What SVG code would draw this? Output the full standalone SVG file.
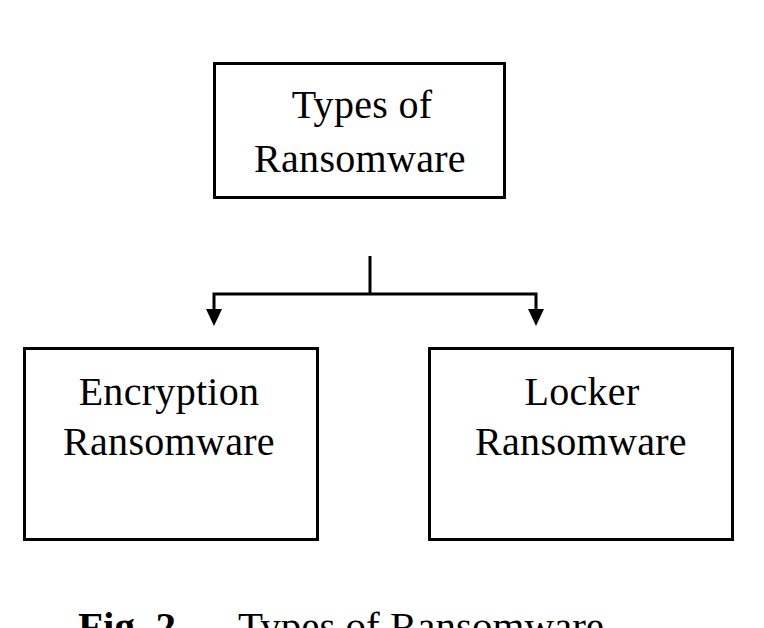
<svg xmlns="http://www.w3.org/2000/svg" width="764" height="628" viewBox="0 0 764 628">
<style>
.box{fill:#fff;stroke:#000;stroke-width:3}
.t{font-family:"Liberation Serif","Times New Roman",serif;font-size:40px;letter-spacing:0.3px;fill:#000;text-anchor:middle}
.cap{font-family:"Liberation Serif","Times New Roman",serif;font-size:41px;fill:#000}
.ln{fill:none;stroke:#000;stroke-width:3}
</style>
<rect width="764" height="628" fill="#fff"/>
<g id="root">
<rect class="box" x="214.5" y="63.5" width="290" height="134"/>
<text class="t" x="362" y="118">Types of</text>
<text class="t" x="360" y="172">Ransomware</text>
</g>
<g id="encryption">
<rect class="box" x="24.5" y="348.5" width="293" height="191"/>
<text class="t" x="169" y="405">Encryption</text>
<text class="t" x="169" y="455">Ransomware</text>
</g>
<g id="locker">
<rect class="box" x="429.5" y="348.5" width="303" height="191"/>
<text class="t" x="582" y="405">Locker</text>
<text class="t" x="581" y="455">Ransomware</text>
</g>
<g id="connectors">
<line class="ln" x1="370" y1="256" x2="370" y2="295"/>
<polyline class="ln" points="214,309 214,294 536,294 536,309"/>
<path d="M206,309 L222,309 L214,326 Z" fill="#000"/>
<path d="M528,309 L544,309 L536,326 Z" fill="#000"/>
</g>
<g id="caption">
<text class="cap" x="78" y="640" font-size="36" font-weight="bold">Fig. 2</text>
<text class="cap" x="238" y="640">Types of Ransomware</text>
</g>
</svg>
